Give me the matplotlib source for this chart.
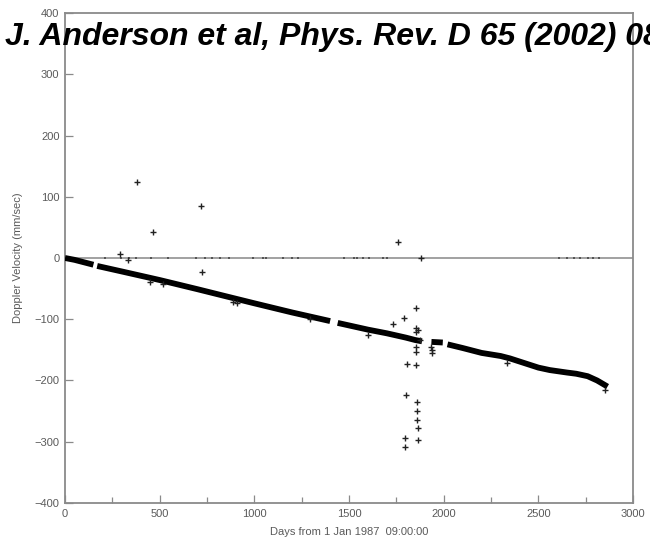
import matplotlib.pyplot as plt
import numpy as np

nan = np.nan

# Doppler track (days since 1 Jan 1987), gaps marked with nan
track_days = [0, 50, 100, 150, nan,
              170, 300, 500, 700, 856, 1000, 1200, 1400, nan,
              1440, 1600, 1700, 1800, 1850, 1885, nan,
              1935, 1995, nan,
              2020, 2100, 2200, 2300, 2350, 2400, 2450, 2500, 2560, 2650,
              2700, 2760, 2810, 2865]
track_vel = [0, -3, -7, -11, nan,
             -13, -22, -36, -51, -63, -74, -89, -103, nan,
             -106, -117, -123, -130, -134, -136, nan,
             -137, -138, nan,
             -141, -147, -155, -160, -164, -169, -174, -179, -183, -187,
             -189, -193, -200, -210]

# stray samples off the main track
stray_days = [380, 465, 718, 723, 290, 333, 449, 518, 887, 908, 1294,
              1759, 1880, 1854, 1791, 1733, 1854, 1865, 1854, 1875, 1854,
              1854, 1806, 1854, 1801, 1859, 1859, 1859, 1862, 1796, 1796,
              1865, 1935, 1936, 1938, 1601, 2335, 2853]
stray_vel = [124, 42, 85, -23, 6, -3, -39, -42, -72, -73, -100,
             26, 0, -82, -98, -108, -114, -118, -121, -134, -145,
             -153, -173, -175, -224, -235, -250, -264, -278, -294, -308,
             -297, -145, -150, -155, -126, -172, -216]

# residual samples sitting on the zero level
resid_days = [211, 296, 338, 375, 454, 544, 692, 740, 777, 819, 867, 993,
              1046, 1062, 1152, 1199, 1231, 1474, 1526, 1542, 1574, 1606,
              1680, 1701, 2610, 2650, 2690, 2720, 2760, 2790, 2820]
resid_vel = [0] * len(resid_days)

x_ticks = [0, 500, 1000, 1500, 2000, 2500, 3000]
y_ticks = [-400, -300, -200, -100, 0, 100, 200, 300, 400]

plt.rcParams['font.family'] = ['Liberation Sans', 'DejaVu Sans']

fig = plt.figure(figsize=(6.5, 5.42), dpi=100)
ax = fig.add_axes([0.100, 0.072, 0.874, 0.904])

grey = '#8a8a8a'
label_grey = '#5a5a5a'
ax.axhline(0, color='#9a9a9a', lw=1.3, zorder=1)
ax.plot(resid_days, resid_vel, 's', color='#555555', ms=1.6, mew=0, zorder=2)
ax.plot(track_days, track_vel, '-', color='black', lw=4.2,
        solid_capstyle='butt', zorder=3)
ax.plot(stray_days, stray_vel, '+', color='#222222', ms=5, mew=1.0, zorder=4)

ax.set_xlim(0, 3000)
ax.set_ylim(-400, 400)
ax.set_xticks(x_ticks)
ax.set_xticks(np.arange(250, 3000, 500), minor=True)
ax.set_yticks(y_ticks)

ax.tick_params(which='major', direction='in', length=6, width=0.9,
               color=grey, labelsize=8, labelcolor=label_grey, pad=4)
ax.tick_params(which='minor', direction='in', length=4, width=0.9, color=grey)
for s in ax.spines.values():
    s.set_color(grey)
    s.set_linewidth(1.3)

ax.set_xlabel('Days from 1 Jan 1987  09:00:00', fontsize=8, color=label_grey,
              labelpad=6)
ax.set_ylabel('Doppler Velocity (mm/sec)', fontsize=8, color=label_grey,
              labelpad=8)

# citation banner runs off the right edge of the figure
fig.text(0.008, 0.932, 'J. Anderson et al, Phys. Rev. D 65 (2002) 082004',
         fontsize=23, fontweight='bold', style='italic', color='black',
         ha='left', va='center', zorder=10)

fig.savefig('out.png', dpi=100)
